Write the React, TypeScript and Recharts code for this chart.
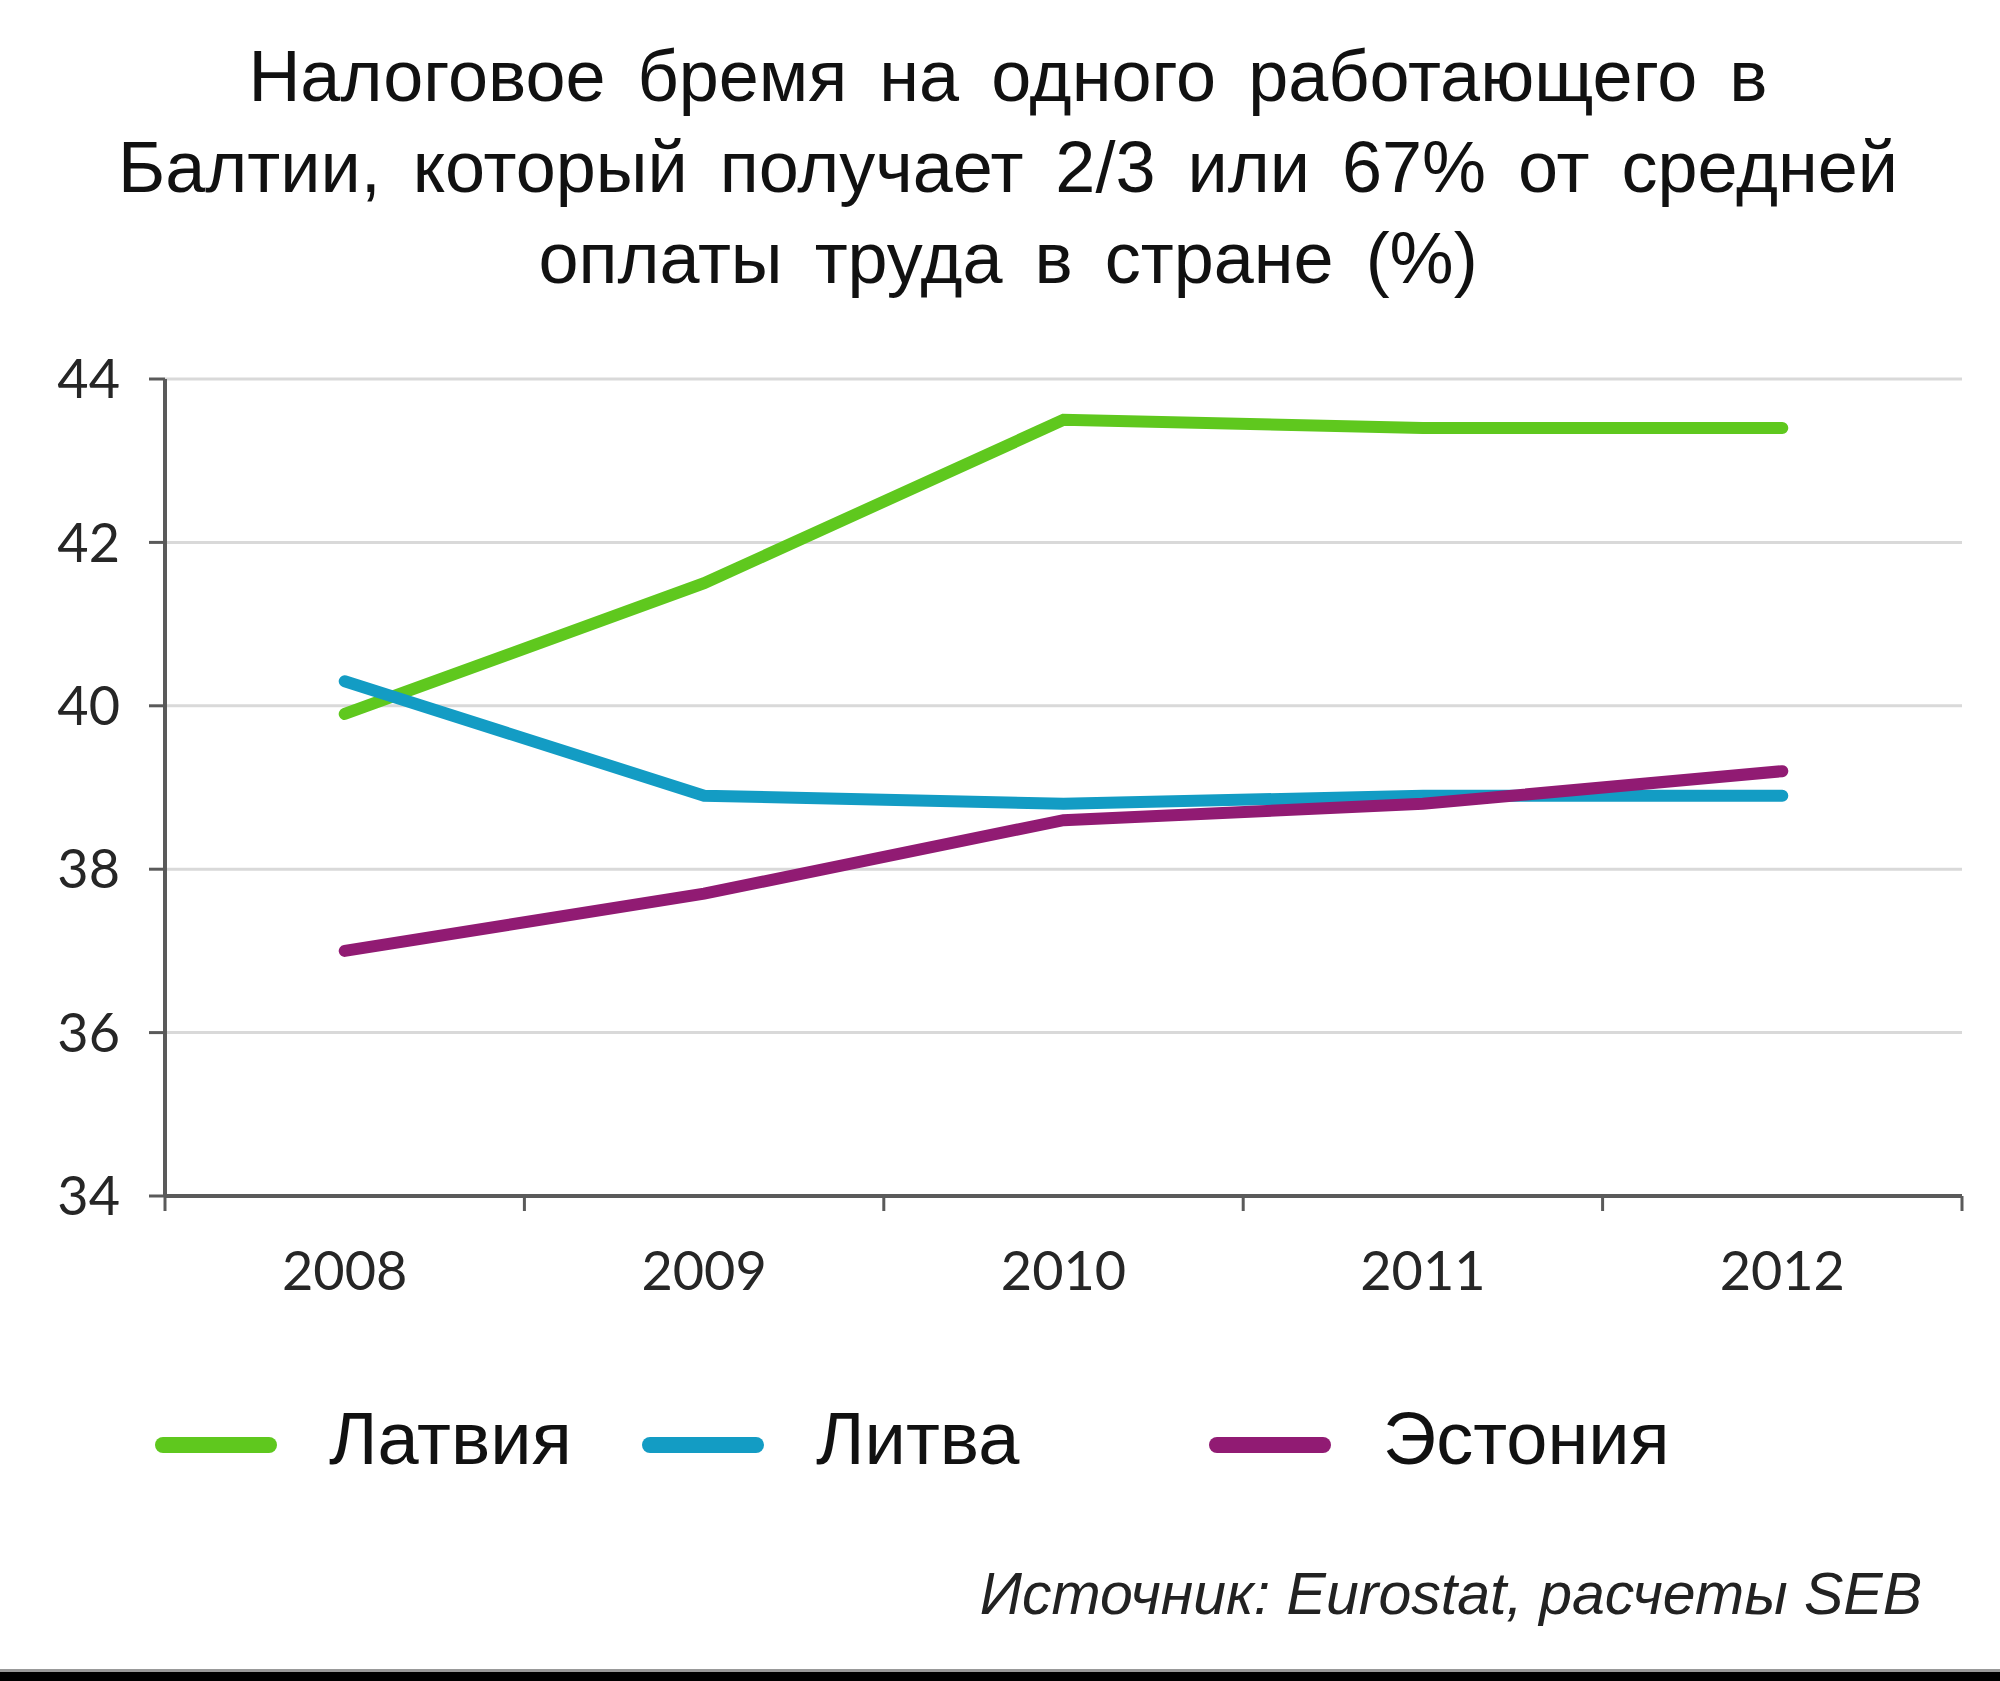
import React from 'react';
import { LineChart, Line, XAxis, YAxis, CartesianGrid, Legend } from 'recharts';

// ---- data ----
const years = ['2008', '2009', '2010', '2011', '2012'];
const latvia = [39.9, 41.5, 43.5, 43.4, 43.4];
const lithuania = [40.3, 38.9, 38.8, 38.9, 38.9];
const estonia = [37.0, 37.7, 38.6, 38.8, 39.2];
const seriesNames = ['Латвия', 'Литва', 'Эстония'];
const yTicks = [34, 36, 38, 40, 42, 44];
const titleLines = [
  'Налоговое бремя на одного работающего в',
  'Балтии, который получает 2/3 или 67% от средней',
  'оплаты труда в стране (%)',
];
const sourceText = 'Источник: Eurostat, расчеты SEB';

const data = years.map((y, i) => ({ year: y, lv: latvia[i], lt: lithuania[i], ee: estonia[i] }));

// ---- layout / styles ----
const W = 2000;
const H = 1681;
const MARGIN = { top: 379, right: 38, bottom: 395, left: 0 };
const Y_AXIS_W = 165;
const PLOT_W = W - MARGIN.left - MARGIN.right - Y_AXIS_W;
const COLORS = ['#5fc81e', '#139cc4', '#911b73'];
const AXIS = '#5a5a5a';
const LABEL = '#262626';
const LEGEND_LEFT = [155, 642, 1209];
const TICK_FONT = 'Lato, "Open Sans", sans-serif';

const XTick = (props: any) => {
  const { x, y, payload, index, visibleTicksCount } = props;
  const bw = PLOT_W / years.length;
  const n = visibleTicksCount ?? years.length;
  return (
    <g>
      <line x1={x - bw / 2} x2={x - bw / 2} y1={y} y2={y + 15} stroke={AXIS} strokeWidth={3} />
      {index === n - 1 && (
        <line x1={x + bw / 2} x2={x + bw / 2} y1={y} y2={y + 15} stroke={AXIS} strokeWidth={3} />
      )}
      <text
        x={x}
        y={y + 56}
        dy="0.71em"
        textAnchor="middle"
        fill={LABEL}
        fontSize={54}
        fontFamily={TICK_FONT}
      >
        {payload.value}
      </text>
    </g>
  );
};

const renderLegend = (props: any) => {
  const payload = props.payload || [];
  return (
    <div style={{ position: 'relative', width: W, height: 90 }}>
      {payload.map((p: any, i: number) => (
        <div
          key={i}
          style={{
            position: 'absolute',
            left: LEGEND_LEFT[i],
            top: 0,
            height: 74,
            display: 'flex',
            alignItems: 'center',
          }}
        >
          <div
            style={{
              width: 122,
              height: 16,
              borderRadius: 8,
              background: p.color,
              marginRight: 52,
              marginTop: 12,
            }}
          />
          <span
            style={{
              fontFamily: '"Liberation Sans", Arial, sans-serif',
              fontSize: 74,
              lineHeight: '74px',
              color: '#111',
            }}
          >
            {p.value}
          </span>
        </div>
      ))}
    </div>
  );
};

export default function App() {
  return (
    <div style={{ position: 'relative', width: W, height: H, background: '#fff', overflow: 'hidden' }}>
      <style>{'body{margin:0;}'}</style>
      <LineChart width={W} height={H} data={data} margin={MARGIN}>
        <CartesianGrid vertical={false} stroke="#d9d9d9" strokeWidth={3} />
        <XAxis
          dataKey="year"
          scale="band"
          interval={0}
          axisLine={{ stroke: AXIS, strokeWidth: 4 }}
          tickLine={false}
          tickSize={0}
          tickMargin={0}
          height={90}
          tick={<XTick />}
        />
        <YAxis
          domain={[34, 44]}
          ticks={yTicks}
          interval={0}
          width={Y_AXIS_W}
          axisLine={{ stroke: AXIS, strokeWidth: 4 }}
          tickLine={{ stroke: AXIS, strokeWidth: 3 }}
          tickSize={16}
          tickMargin={29}
          tick={{ fill: LABEL, fontSize: 54, fontFamily: TICK_FONT }}
        />
        <Legend
          layout="horizontal"
          verticalAlign="middle"
          align="center"
          wrapperStyle={{ top: 1402, left: 0, width: W, height: 90 }}
          content={renderLegend}
        />
        <Line
          dataKey="lv"
          name={seriesNames[0]}
          stroke={COLORS[0]}
          strokeWidth={12}
          strokeLinecap="round"
          dot={false}
          activeDot={false}
          isAnimationActive={false}
        />
        <Line
          dataKey="lt"
          name={seriesNames[1]}
          stroke={COLORS[1]}
          strokeWidth={12}
          strokeLinecap="round"
          dot={false}
          activeDot={false}
          isAnimationActive={false}
        />
        <Line
          dataKey="ee"
          name={seriesNames[2]}
          stroke={COLORS[2]}
          strokeWidth={12}
          strokeLinecap="round"
          dot={false}
          activeDot={false}
          isAnimationActive={false}
        />
      </LineChart>

      <div
        style={{
          position: 'absolute',
          left: 16,
          top: 31,
          width: 1984,
          textAlign: 'center',
          fontFamily: '"Liberation Sans", Arial, sans-serif',
          fontSize: 72,
          lineHeight: '91px',
          color: '#111',
          wordSpacing: 12,
        }}
      >
        {titleLines.map((l, i) => (
          <div key={i}>{l}</div>
        ))}
      </div>

      <div
        style={{
          position: 'absolute',
          right: 78,
          top: 1565,
          fontFamily: '"Liberation Sans", Arial, sans-serif',
          fontStyle: 'italic',
          fontSize: 59,
          lineHeight: '59px',
          color: '#222',
          whiteSpace: 'nowrap',
        }}
      >
        {sourceText}
      </div>

      <div style={{ position: 'absolute', left: 0, top: 1669, width: W, height: 3, background: '#999' }} />
      <div style={{ position: 'absolute', left: 0, top: 1672, width: W, height: 9, background: '#000' }} />
    </div>
  );
}
